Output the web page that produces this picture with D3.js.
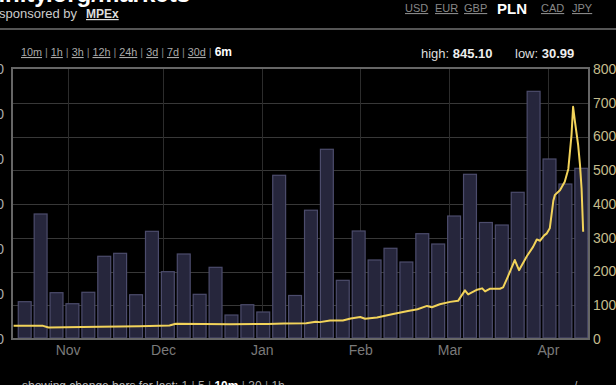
<!DOCTYPE html>
<html><head><meta charset="utf-8">
<script src="https://cdn.jsdelivr.net/npm/d3@7"></script>
<style>
html,body{margin:0;padding:0;background:#000;overflow:hidden;}
svg{display:block;}
</style></head>
<body>
<script>
// ---- data ----
const barDates = ["2012-10-16","2012-10-21","2012-10-26","2012-10-31","2012-11-05","2012-11-10","2012-11-15","2012-11-20","2012-11-25","2012-11-30",
  "2012-12-05","2012-12-10","2012-12-15","2012-12-20","2012-12-25","2012-12-30","2013-01-04","2013-01-09","2013-01-14","2013-01-19",
  "2013-01-24","2013-01-29","2013-02-03","2013-02-08","2013-02-13","2013-02-18","2013-02-23","2013-02-28","2013-03-05","2013-03-10",
  "2013-03-15","2013-03-20","2013-03-25","2013-03-30","2013-04-04","2013-04-09"];
const volumes = [829,2778,1029,784,1038,1838,1904,984,2393,1496,
  1889,993,1593,533,762,600,3638,967,2862,4216,
  1304,2400,1756,2016,1711,2340,2111,2733,3660,2589,
  2533,3260,5504,4000,3444,3793];
const priceDates = ["2012-10-15 00","2012-10-24 06","2012-10-26 00","2012-11-11 00","2012-11-23 12","2012-12-03 00","2012-12-05 00",
  "2012-12-22 00","2013-01-03 00","2013-01-08 00","2013-01-15 00","2013-01-18 00","2013-01-19 08","2013-01-22 12","2013-01-26 12",
  "2013-01-29 00","2013-02-01 00","2013-02-02 12","2013-02-06 06","2013-02-11 08","2013-02-16 00","2013-02-19 00","2013-02-22 00",
  "2013-02-23 12","2013-02-26 00","2013-03-01 06","2013-03-03 18","2013-03-05 22","2013-03-06 22","2013-03-09 18","2013-03-11 08",
  "2013-03-12 06","2013-03-13 20","2013-03-16 22","2013-03-17 22","2013-03-19 10","2013-03-21 14","2013-03-22 22","2013-03-25 10",
  "2013-03-27 08","2013-03-28 12","2013-03-29 12","2013-03-30 20","2013-03-31 16","2013-04-01 14","2013-04-02 17","2013-04-03 05",
  "2013-04-04 19","2013-04-06 07","2013-04-07 10","2013-04-08 10","2013-04-08 22","2013-04-09 12","2013-04-10 12","2013-04-11 02",
  "2013-04-11 14","2013-04-12 02"];
const prices = [39,39,34,36,38,40,45,
  44,44.5,46,47,51,50,55,55,
  61,65,60,64,74,83,88,98,
  94,103,110,113,144,132,146,150,
  141,149,149,153,185,234,204,246,
  273,295,291,307,313,328,410,427,
  441,466,504,604,688,644,575,516,
  446,318];
const priceTicks = [0,100,200,300,400,500,600,700,800];
const volTicks = [0,1000,2000,3000,4000,5000,6000];
const monthLabels = ["Nov","Dec","Jan","Feb","Mar","Apr"];
const monthDates = ["2012-11-01","2012-12-01","2013-01-01","2013-02-01","2013-03-01","2013-04-01"];
const timeframes = ["10m","1h","3h","12h","24h","3d","7d","30d","6m"];
const currencies = ["USD","EUR","GBP","PLN","CAD","JPY"];
const changeBars = ["1","5","10m","30","1h"];

// ---- layout ----
const W = 616, H = 385;
const L = 12, R = 589, T = 69, B = 339;
const pDay = d3.timeParse("%Y-%m-%d");
const pHour = d3.timeParse("%Y-%m-%d %H");

const svg = d3.select("body").append("svg").attr("width", W).attr("height", H)
  .style("background", "#000");

const x = d3.scaleTime().domain([new Date(2012,9,14,12), new Date(2013,3,13,22)]).range([L, R]);
const yP = d3.scaleLinear().domain([0, 800]).range([B, T]);
const yV = d3.scaleLinear().domain([0, 6000]).range([B, T]);

// header
svg.append("text").attr("x", 190).attr("y", 2).attr("text-anchor", "end")
  .attr("font-family", "Liberation Sans, Arial, sans-serif").attr("font-weight", "bold")
  .attr("font-size", 24).attr("fill", "#fff").text("bitcoinity.org/markets");
svg.append("text").attr("x", -1).attr("y", 18)
  .attr("font-family", "Liberation Sans, Arial, sans-serif").attr("font-size", 13)
  .attr("fill", "#ccc").text("sponsored by");
svg.append("text").attr("x", 86).attr("y", 18)
  .attr("font-family", "Liberation Sans, Arial, sans-serif").attr("font-size", 12).attr("font-weight", "bold")
  .attr("fill", "#ddd").attr("text-decoration", "underline").text("MPEx");

// currencies
const curX = [405, 435, 464, 497, 541, 572];
currencies.forEach((c, i) => {
  const sel = c === "PLN";
  svg.append("text").attr("x", curX[i]).attr("y", sel ? 14 : 12)
    .attr("font-family", "Liberation Sans, Arial, sans-serif")
    .attr("font-size", sel ? 15 : 11).attr("font-weight", sel ? "bold" : "normal")
    .attr("fill", sel ? "#fff" : "#888")
    .attr("text-decoration", sel ? "none" : "underline").text(c);
});

// separator
svg.append("rect").attr("x", 0).attr("y", 28).attr("width", W).attr("height", 2).attr("fill", "#555");

// timeframe links
{
  const t = svg.append("text").attr("x", 21).attr("y", 56)
    .attr("font-family", "Liberation Sans, Arial, sans-serif").attr("font-size", 10.8);
  timeframes.forEach((tf, i) => {
    const sel = tf === "6m";
    t.append("tspan").attr("fill", sel ? "#fff" : "#aaa").attr("font-weight", sel ? "bold" : "normal")
      .attr("font-size", sel ? 12 : 10.8)
      .attr("text-decoration", sel ? "none" : "underline").text(tf);
    if (i < timeframes.length - 1) t.append("tspan").attr("fill", "#888").text(" | ");
  });
}

// high / low
{
  const t = svg.append("text").attr("x", 421).attr("y", 58)
    .attr("font-family", "Liberation Sans, Arial, sans-serif").attr("font-size", 13).attr("fill", "#ddd");
  t.append("tspan").text("high: ");
  t.append("tspan").attr("font-weight", "bold").attr("fill", "#eee").text("845.10");
  t.append("tspan").attr("x", 515).text("low: ");
  t.append("tspan").attr("font-weight", "bold").attr("fill", "#eee").text("30.99");
}

// grid
const grid = svg.append("g");
grid.selectAll("line.h").data(priceTicks.slice(1, -1)).enter().append("line")
  .attr("x1", L).attr("x2", R).attr("y1", d => Math.round(yP(d)) + 0.5).attr("y2", d => Math.round(yP(d)) + 0.5)
  .attr("stroke", "#383838").attr("stroke-width", 1);
grid.selectAll("line.v").data(monthDates).enter().append("line")
  .attr("y1", T).attr("y2", B)
  .attr("x1", d => Math.round(x(pDay(d))) + 0.5).attr("x2", d => Math.round(x(pDay(d))) + 0.5)
  .attr("stroke", "#2c2c2c").attr("stroke-width", 1);

// bars
const day = 864e5;
svg.append("g").selectAll("rect").data(barDates.map((d, i) => ({d: pDay(d), v: volumes[i]}))).enter().append("rect")
  .attr("x", d => x(d.d) + 1.5)
  .attr("width", d => x(new Date(+d.d + 5 * day)) - x(d.d) - 3)
  .attr("y", d => yV(d.v))
  .attr("height", d => B - 1 - yV(d.v))
  .attr("fill", "#26263c").attr("stroke", "#4c4c6c").attr("stroke-width", 1.2);

// price line
const line = d3.line().x(d => x(d.d)).y(d => yP(d.p)).curve(d3.curveLinear);
svg.append("path").datum(priceDates.map((d, i) => ({d: pHour(d), p: prices[i]})))
  .attr("d", line).attr("fill", "none").attr("stroke", "#f2d35a").attr("stroke-width", 2)
  .attr("stroke-linejoin", "round");

// frame
svg.append("rect").attr("x", L).attr("y", T - 1).attr("width", R - L).attr("height", B - T + 1)
  .attr("fill", "none").attr("stroke", "#666").attr("stroke-width", 2);

// right axis
const axR = svg.append("g").attr("transform", `translate(${R + 2},0)`)
  .call(d3.axisRight(yP).tickValues(priceTicks).tickSize(0).tickPadding(2));
axR.select(".domain").remove();
axR.selectAll("text").attr("font-family", "Liberation Sans Narrow, Arial Narrow, sans-serif")
  .attr("font-size", 14).attr("fill", "#c4bc8c");

// left axis (cut off at the window edge)
const axL = svg.append("g").attr("transform", `translate(6,0)`)
  .call(d3.axisLeft(yV).tickValues(volTicks).tickSize(0).tickPadding(2));
axL.select(".domain").remove();
axL.selectAll("text").attr("font-family", "Liberation Sans Narrow, Arial Narrow, sans-serif")
  .attr("font-size", 14).attr("fill", "#aaa");

// x axis
const axB = svg.append("g").attr("transform", `translate(0,${B + 2})`)
  .call(d3.axisBottom(x).tickValues(monthDates.map(pDay)).tickFormat((d, i) => monthLabels[i]).tickSize(0).tickPadding(4));
axB.select(".domain").remove();
axB.selectAll("text").attr("font-family", "Liberation Sans Narrow, Arial Narrow, sans-serif")
  .attr("font-size", 14).attr("fill", "#7a7a7a");

// bottom text
{
  const t = svg.append("text").attr("x", 22).attr("y", 390)
    .attr("font-family", "Liberation Sans, Arial, sans-serif").attr("font-size", 12).attr("fill", "#bbb");
  t.append("tspan").text("showing change bars for last: ");
  changeBars.forEach((c, i) => {
    const sel = c === "10m";
    t.append("tspan").attr("font-weight", sel ? "bold" : "normal").attr("fill", sel ? "#fff" : "#aaa").text(c);
    if (i < changeBars.length - 1) t.append("tspan").attr("fill", "#888").text(" | ");
  });
  svg.append("text").attr("x", 574).attr("y", 390).attr("font-family", "Liberation Sans, Arial, sans-serif")
    .attr("font-size", 12).attr("fill", "#aaa").text("/");
}
</script>
</body></html>
